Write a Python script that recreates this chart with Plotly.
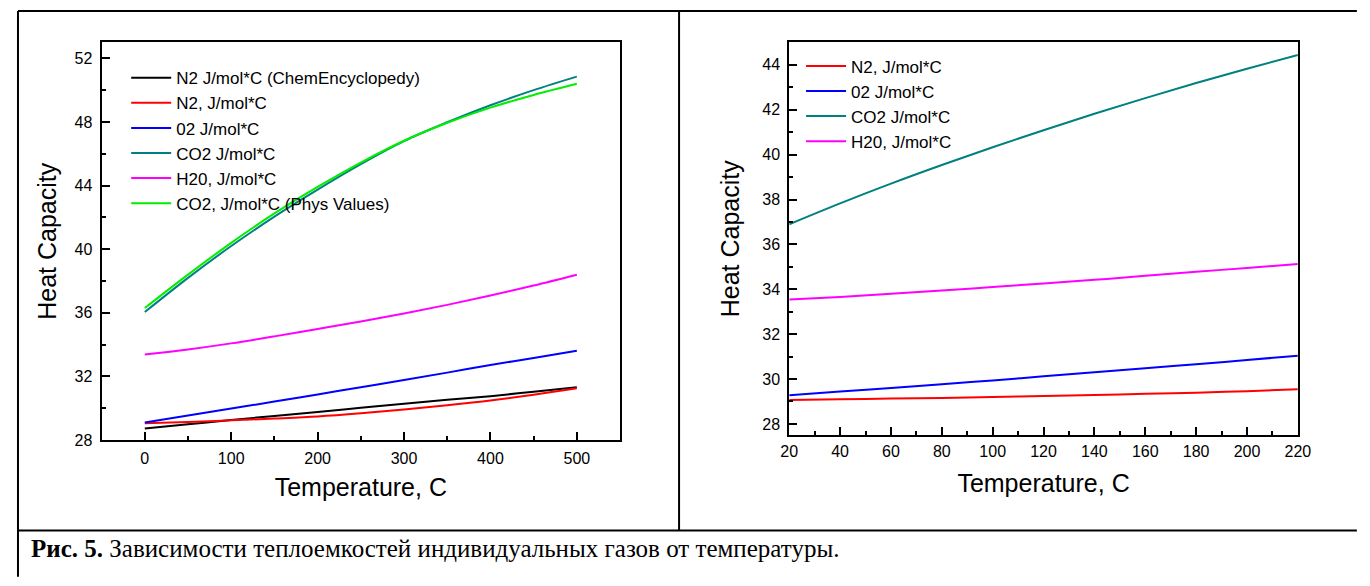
import plotly.graph_objects as go

# ---- Left panel data ----
t_left = [0, 50, 100, 150, 200, 250, 300, 350, 400, 450, 500]
n2_chem = [28.72, 28.99, 29.26, 29.52, 29.77, 30.03, 30.29, 30.53, 30.76, 31.04, 31.32]
n2_left = [29.05, 29.13, 29.24, 29.35, 29.48, 29.68, 29.92, 30.19, 30.49, 30.85, 31.26]
o2_left = [29.10, 29.54, 29.98, 30.42, 30.87, 31.32, 31.77, 32.24, 32.72, 33.16, 33.61]
co2_left = [36.05, 38.20, 40.20, 42.05, 43.75, 45.35, 46.80, 47.98, 49.05, 50.00, 50.85]
h2o_left = [33.38, 33.70, 34.08, 34.52, 34.99, 35.46, 35.96, 36.50, 37.09, 37.72, 38.40]
co2_phys = [36.30, 38.40, 40.40, 42.25, 43.92, 45.45, 46.82, 47.95, 48.90, 49.70, 50.40]

# ---- Right panel data ----
t_right = [20, 40, 60, 80, 100, 120, 140, 160, 180, 200, 220]
n2_right = [29.07, 29.10, 29.13, 29.16, 29.20, 29.24, 29.29, 29.34, 29.39, 29.46, 29.54]
o2_right = [29.28, 29.44, 29.60, 29.77, 29.94, 30.12, 30.30, 30.48, 30.66, 30.85, 31.04]
co2_right = [36.90, 37.83, 38.71, 39.54, 40.33, 41.09, 41.82, 42.52, 43.19, 43.83, 44.44]
h2o_right = [33.54, 33.66, 33.80, 33.95, 34.10, 34.26, 34.42, 34.60, 34.78, 34.95, 35.13]

labels_left = ["N2 J/mol*C (ChemEncyclopedy)", "N2, J/mol*C", "02 J/mol*C",
               "CO2 J/mol*C", "H20, J/mol*C", "CO2, J/mol*C (Phys Values)"]
labels_right = ["N2, J/mol*C", "02 J/mol*C", "CO2 J/mol*C", "H20, J/mol*C"]

# page has an 8px body margin; figure sized so the page fits the window exactly
OFF = 8
W, H = 1370 - 2 * OFF, 586 - 2 * OFF
def px(x): return (x - OFF) / W
def py(y): return 1 - (y - OFF) / H

fig = go.Figure()
left_series = [n2_chem, n2_left, o2_left, co2_left, h2o_left, co2_phys]
left_colors = ["#000000", "#ff0000", "#0000ff", "#008080", "#ff00ff", "#00ee00"]
for name, ys, c in zip(labels_left, left_series, left_colors):
    fig.add_trace(go.Scatter(x=t_left, y=ys, mode="lines", name=name,
                             line=dict(color=c, width=2, shape="spline"),
                             xaxis="x", yaxis="y", legend="legend"))

right_series = [n2_right, o2_right, co2_right, h2o_right]
right_colors = ["#ff0000", "#0000ff", "#008080", "#ff00ff"]
for name, ys, c in zip(labels_right, right_series, right_colors):
    fig.add_trace(go.Scatter(x=t_right, y=ys, mode="lines", name=name,
                             line=dict(color=c, width=2, shape="spline"),
                             xaxis="x2", yaxis="y2", legend="legend2"))

tickfont = dict(family="Liberation Sans, Arial", size=16, color="black")
titlefont = dict(family="Liberation Sans, Arial", size=25, color="black")
legfont = dict(family="Liberation Sans, Arial", size=17, color="black")

def axis(domain, rng, dtick, minor_dtick, title, anchor, standoff, lblstand):
    return dict(domain=domain, range=rng, anchor=anchor, dtick=dtick, tick0=0,
                showline=True, linecolor="black", linewidth=2, mirror=True,
                ticks="inside", ticklen=8, tickwidth=2, tickcolor="black",
                minor=dict(ticks="inside", ticklen=4, tickwidth=2, tickcolor="black", dtick=minor_dtick, showgrid=False),
                showgrid=False, zeroline=False, tickfont=tickfont, ticklabelstandoff=lblstand,
                title=dict(text=title, font=titlefont, standoff=standoff))

fig.update_layout(
    width=W, height=H, margin=dict(l=0, r=0, t=0, b=0),
    paper_bgcolor="white", plot_bgcolor="white",
    xaxis=axis([px(94), px(621)], [-50, 550], 100, 50, "Temperature, C", "y", 12, 3),
    yaxis=axis([py(447), py(43)], [28, 53], 4, 2, "Heat Capacity", "x", 11, 4),
    xaxis2=axis([px(793), px(1310)], [20, 220], 20, 10, "Temperature, C", "y2", 15, 1),
    yaxis2=axis([py(442), py(43)], [27.5, 45], 2, 1, "Heat Capacity", "x2", 15, 4),
    legend=dict(x=px(119), y=py(61), xanchor="left", yanchor="top", bgcolor="rgba(0,0,0,0)",
                font=legfont, tracegroupgap=0, itemwidth=40),
    legend2=dict(x=px(805), y=py(49), xanchor="left", yanchor="top", bgcolor="rgba(0,0,0,0)",
                 font=legfont, tracegroupgap=0, itemwidth=40),
    showlegend=True,
)

# table borders
border = dict(color="black", width=2)
shapes = [
    dict(type="line", xref="paper", yref="paper", x0=px(9), x1=px(1370), y0=py(11), y1=py(11), line=border),
    dict(type="line", xref="paper", yref="paper", x0=px(9), x1=px(9), y0=py(11), y1=py(586), line=border),
    dict(type="line", xref="paper", yref="paper", x0=px(681), x1=px(681), y0=py(11), y1=py(539), line=border),
    dict(type="line", xref="paper", yref="paper", x0=px(9), x1=px(1370), y0=py(539), y1=py(539), line=border),
]
fig.update_layout(shapes=shapes)

fig.add_annotation(xref="paper", yref="paper", x=px(20), y=py(557), xanchor="left", yanchor="middle",
                   showarrow=False,
                   text="<b>Рис. 5.</b> Зависимости теплоемкостей индивидуальных газов от температуры.",
                   font=dict(family="Liberation Serif, Times New Roman", size=25, color="black"))

fig.write_html("out.html")
